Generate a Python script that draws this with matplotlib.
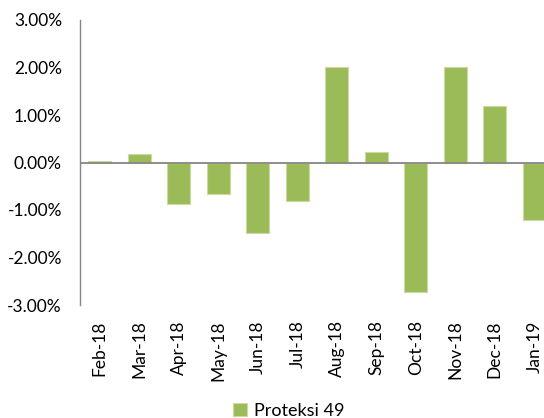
import matplotlib
matplotlib.use("Agg")
import matplotlib.pyplot as plt
from matplotlib.ticker import FuncFormatter

categories = ["Feb-18", "Mar-18", "Apr-18", "May-18", "Jun-18", "Jul-18",
              "Aug-18", "Sep-18", "Oct-18", "Nov-18", "Dec-18", "Jan-19"]
values = [0.04, 0.175, -0.87, -0.66, -1.49, -0.82, 2.02, 0.23, -2.72, 2.02, 1.19, -1.20]
series_name = "Proteksi 49"

plt.rcParams['font.family'] = ['Lato', 'DejaVu Sans']

fig = plt.figure(figsize=(5.44, 4.18), dpi=100)
ax = fig.add_axes([80/544, 1 - 305/418, 474/544, 285/418])

x = list(range(len(categories)))
ax.bar(x, values, width=0.58, color="#9BBB59", edgecolor="#C9DBA0", linewidth=0.8,
       label=series_name, zorder=2)
ax.axhline(0, color="#868686", linewidth=1.3, zorder=3)

ax.set_xlim(-0.5, len(categories) - 0.5)
ax.set_ylim(-3, 3)
ax.set_yticks([-3, -2, -1, 0, 1, 2, 3])
ax.yaxis.set_major_formatter(FuncFormatter(lambda v, p: f"{v:.2f}%"))
ax.set_xticks(x)
ax.set_xticklabels(categories, rotation=90)

for s in ["top", "right", "bottom"]:
    ax.spines[s].set_visible(False)
ax.spines["left"].set_color("#868686")
ax.spines["left"].set_linewidth(1.0)
ax.tick_params(axis="y", length=0, pad=13, labelsize=12.5, labelcolor="black")
ax.tick_params(axis="x", length=0, pad=11, labelsize=12.5, labelcolor="black")

fig.legend(loc="center", bbox_to_anchor=(289/544, 1 - 411/418), frameon=False,
           fontsize=13, handlelength=0.75, handleheight=0.75, handletextpad=0.4)

fig.savefig("out.png", dpi=100)
